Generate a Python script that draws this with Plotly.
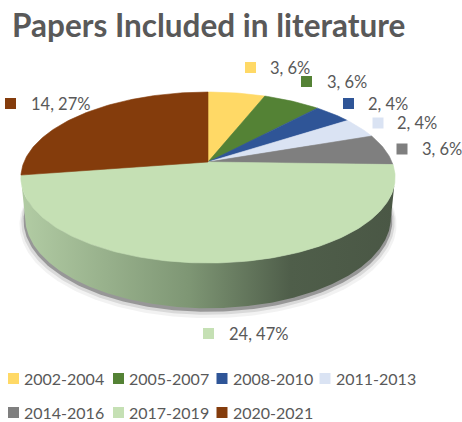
import numpy as np
import plotly.graph_objects as go

# ---- data ----
periods = ["2002-2004", "2005-2007", "2008-2010", "2011-2013",
           "2014-2016", "2017-2019", "2020-2021"]
papers = [3, 3, 2, 2, 3, 24, 14]
colors = ["#FFD966", "#548235", "#2F5597", "#DAE3F3",
          "#7F7F7F", "#C5E0B4", "#843C0C"]

# ---- layout constants (pixel space) ----
W, H = 462, 422
CX, CY = 208, 162          # projected centre of the pie's top face
F = 184                    # focal scale
ELEV = np.radians(26.7)    # viewing elevation
DIST = 4.92                # camera distance (perspective)
THICK = 0.245              # pie thickness relative to radius

# label anchors: (key centre x, key centre y, text left x)
label_pos = [(250.5, 67.5, 269), (306.5, 81.5, 326), (348.5, 103.5, 367),
             (378, 123, 396), (402, 149, 421), (208.5, 333.5, 228),
             (10.5, 103.5, 30)]
legend_pos = [(13.5, 378.5), (118.5, 378.5), (222, 378.5), (325, 378.5),
              (13.5, 412.5), (118.5, 412.5), (222, 412.5)]

TXT = "#595959"
FONT = "Lato"


def project(theta, level=0.0, r=1.0):
    """Perspective projection of a point on the pie disc.
    theta is measured clockwise from the back (12 o'clock)."""
    X = r * np.sin(theta)
    Z = -r * np.cos(theta)
    Y = level
    depth = Z * np.cos(ELEV) + Y * np.sin(ELEV)
    s = DIST / (DIST - depth)
    px = CX + F * X * s
    py = CY + F * (Z * np.sin(ELEV) - Y * np.cos(ELEV)) * s
    return px, py


total = sum(papers)
fracs = np.array(papers) / total
edges = np.concatenate([[0], np.cumsum(fracs)]) * 2 * np.pi

# silhouette angles of the side wall
grid = np.linspace(0, 2 * np.pi, 3601)
gx, _ = project(grid)
right_sil = grid[:1801][np.argmax(gx[:1801])]
left_sil = grid[1800:][np.argmin(gx[1800:])]

fig = go.Figure()

# shadow under the pie: a soft halo plus a tighter dark edge
full = np.linspace(0, 2 * np.pi, 361)
for r, dy, a in [(1.03, 6, 0.05), (1.02, 4, 0.10), (1.008, 2.5, 0.30)]:
    sx, sy = project(full, -THICK, r)
    fig.add_trace(go.Scatter(x=sx, y=sy + dy, fill="toself", mode="lines",
                             line=dict(width=0), fillcolor=f"rgba(0,0,0,{a})",
                             hoverinfo="skip", showlegend=False))

# visible side wall (front arc, taken by the largest slice)
big = int(np.argmax(papers))
t = np.linspace(right_sil, left_sil, 400)
tx, ty = project(t, 0.0)
bx, by = project(t[::-1], -THICK)
fig.add_trace(go.Scatter(
    x=np.concatenate([tx, bx, tx[:1]]), y=np.concatenate([ty, by, ty[:1]]),
    fill="toself", mode="lines", line=dict(width=0), hoverinfo="skip",
    showlegend=False,
    fillgradient=dict(type="horizontal",
                      colorscale=[[0, "#B2CCA4"], [0.45, "#7E9674"],
                                  [0.72, "#4F5E4A"], [1, "#4A5745"]])))

# top face slices
for i in range(len(papers)):
    t = np.linspace(edges[i], edges[i + 1],
                    max(int((edges[i + 1] - edges[i]) / np.pi * 180), 2))
    ax, ay = project(t, 0.0)
    xs = np.concatenate([[CX], ax, [CX]])
    ys = np.concatenate([[CY], ay, [CY]])
    fig.add_trace(go.Scatter(x=xs, y=ys, fill="toself", mode="lines",
                             line=dict(width=0.6, color=colors[i]),
                             fillcolor=colors[i], name=periods[i],
                             hoverinfo="name", showlegend=False))

shapes = []
annotations = []
KEY = 5.5

# data labels: "count, percent"
for i, (kx, ky, tx) in enumerate(label_pos):
    shapes.append(dict(type="rect", xref="x", yref="y",
                       x0=kx - KEY, x1=kx + KEY, y0=ky - KEY, y1=ky + KEY,
                       fillcolor=colors[i], line=dict(width=0)))
    annotations.append(dict(x=tx, y=ky, xref="x", yref="y",
                            text=f"{papers[i]}, {round(fracs[i] * 100)}%",
                            showarrow=False, xanchor="left", yanchor="middle",
                            borderpad=0,
                            font=dict(family=FONT, size=16.5, color=TXT)))

# legend
for i, (kx, ky) in enumerate(legend_pos):
    shapes.append(dict(type="rect", xref="x", yref="y",
                       x0=kx - KEY, x1=kx + KEY, y0=ky - KEY, y1=ky + KEY,
                       fillcolor=colors[i], line=dict(width=0)))
    annotations.append(dict(x=kx + 9.5, y=ky, xref="x", yref="y",
                            text=periods[i], showarrow=False,
                            xanchor="left", yanchor="middle", borderpad=0,
                            font=dict(family=FONT, size=16, color=TXT)))

# title
annotations.append(dict(x=10, y=25, xref="x", yref="y",
                        text="<b>Papers Included in literature</b>",
                        showarrow=False, xanchor="left", yanchor="middle",
                        font=dict(family=FONT, size=31.5, color=TXT)))

fig.update_layout(
    width=W, height=H, autosize=False,
    margin=dict(l=0, r=0, t=0, b=0),
    paper_bgcolor="white", plot_bgcolor="white",
    xaxis=dict(range=[0, W], visible=False, fixedrange=True),
    yaxis=dict(range=[H, 0], visible=False, fixedrange=True),
    shapes=shapes, annotations=annotations, showlegend=False,
)

fig.write_html("out.html")
